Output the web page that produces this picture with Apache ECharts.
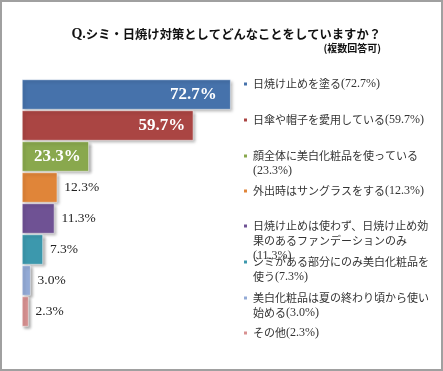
<!DOCTYPE html>
<html><head><meta charset="utf-8">
<script src="https://cdn.jsdelivr.net/npm/echarts@6/dist/echarts.min.js"></script>
<style>html,body{margin:0;padding:0;background:#fff}#c{width:443px;height:371px}</style>
</head><body><div id="c"></div>
<script>
const categories = ['日焼け止めを塗る','日傘や帽子を愛用している','顔全体に美白化粧品を使っている','外出時はサングラスをする','日焼け止めは使わず、日焼け止め効果のあるファンデーションのみ','シミがある部分にのみ美白化粧品を使う','美白化粧品は夏の終わり頃から使い始める','その他'];
const values = [72.7, 59.7, 23.3, 12.3, 11.3, 7.3, 3.0, 2.3];
const colors = ['#4672AB','#AA4543','#89A84D','#E08539','#6F5294','#3C98AD','#93AAD6','#D89191'];
const insideCount = 3;

// layout only
const legendCenterY = [84, 120, 156, 191, 226, 262, 298, 333];
const LH = 15;

function wrapLabel(text, pct) {
  const lines = [];
  for (let i = 0; i < text.length; i += 16) lines.push(text.slice(i, i + 16));
  const pctStr = '(' + pct.toFixed(1) + '%)';
  const last = lines[lines.length - 1];
  let parts = lines.map(l => '{a|' + l + '}');
  if (last.length + 4 > 16) parts.push('{b|' + pctStr + '}');
  else parts[parts.length - 1] += '{b|' + pctStr + '}';
  return { text: parts.join('\n'), n: parts.length };
}

const chart = echarts.init(document.getElementById('c'), null, { renderer: 'canvas' });

const series = categories.map((name, i) => ({
  name: name,
  type: 'bar',
  stack: 'all',
  color: colors[i],
  barCategoryGap: '3%',
  data: values.map((v, j) => (j === i ? v : '-')),
  itemStyle: {
    color: colors[i],
    borderColor: '#fff',
    borderWidth: 0.5,
    shadowColor: 'rgba(0,0,0,0.35)',
    shadowBlur: 3,
    shadowOffsetX: 2,
    shadowOffsetY: 2
  },
  label: i < insideCount ? {
    show: true, position: 'insideRight', distance: i === 0 ? 14 : 8,
    color: '#fff', fontFamily: 'Liberation Serif', fontWeight: 'bold', fontSize: 17,
    formatter: p => p.value.toFixed(1) + '%'
  } : {
    show: true, position: 'right', distance: 7,
    color: '#222', fontFamily: 'Liberation Serif', fontSize: 13.5,
    formatter: p => p.value.toFixed(1) + '%'
  }
}));

const legends = categories.map((name, i) => {
  const w = wrapLabel(name, values[i]);
  return {
    data: [name],
    left: 242,
    top: legendCenterY[i] - (2 * w.n - 1) * LH / 2,
    orient: 'vertical',
    padding: 0,
    icon: 'rect',
    itemWidth: 5,
    itemHeight: 5,
    selectedMode: false,
    formatter: () => w.text,
    textStyle: {
      color: '#333',
      fontSize: 11,
      lineHeight: LH,
      padding: [(w.n - 1) * LH, 0, 0, 0],
      rich: {
        a: { fontFamily: 'Noto Sans CJK JP', fontSize: 11, lineHeight: LH, color: '#333' },
        b: { fontFamily: 'Liberation Serif', fontSize: 12, lineHeight: LH, color: '#333' }
      }
    }
  };
});

chart.setOption({
  animation: false,
  title: [{
    text: '{q|Q.}{t|シミ・日焼け対策としてどんなことをしていますか？}',
    right: 62,
    top: 26,
    padding: 0,
    textStyle: {
      lineHeight: 16,
      rich: {
        q: { fontFamily: 'Liberation Serif', fontWeight: 'bold', fontSize: 14, color: '#111', lineHeight: 16 },
        t: { fontFamily: 'Noto Sans CJK JP', fontSize: 12.3, color: '#111', lineHeight: 16 }
      }
    }
  }, {
    text: '(複数回答可)',
    right: 62,
    top: 41,
    padding: 0,
    textStyle: { fontFamily: 'Noto Sans CJK JP', fontWeight: 'bold', fontSize: 10, color: '#111', lineHeight: 14 }
  }],
  legend: legends,
  grid: { left: 22, top: 79, width: 287, height: 248 },
  xAxis: { type: 'value', min: 0, max: 100, show: false },
  yAxis: { type: 'category', data: categories, inverse: true, show: false },
  series: series,
  graphic: [{
    type: 'rect', z: 100, silent: true,
    shape: { x: 1, y: 1, width: 441, height: 369 },
    style: { fill: 'none', stroke: '#a0a0a0', lineWidth: 2 }
  }]
});
</script>
</body></html>
